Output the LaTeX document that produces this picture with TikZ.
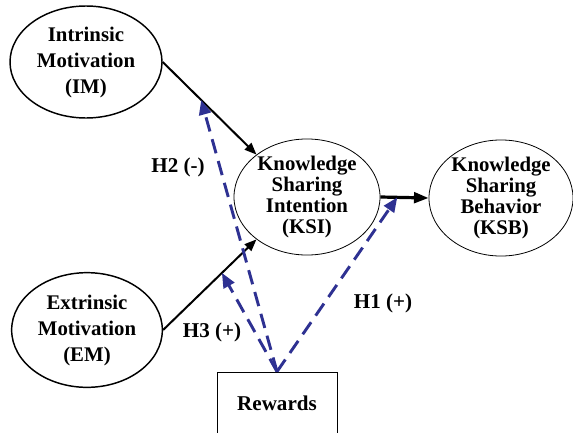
\documentclass[tikz,border=0pt]{standalone}
\usepackage{fontspec}
\setmainfont{Liberation Serif}
\usetikzlibrary{arrows.meta,shapes.geometric}
\definecolor{hblue}{RGB}{46,49,146}
\begin{document}
\begin{tikzpicture}[x=0.75pt,y=-0.75pt,
  construct/.style={ellipse,draw=black,align=center,inner sep=0pt,font=\bfseries\fontsize{15.6}{15.8}\selectfont},
  outer/.style={construct,line width=1.1pt,font=\bfseries\fontsize{15.6}{19.5}\selectfont},
  inner/.style={construct,line width=0.6pt},
  link/.style={line width=1.5pt,-{Triangle[length=9pt,width=7pt]}},
  hyp/.style={hblue,line width=2.2pt,dash pattern=on 11pt off 6pt,-{Triangle[length=11pt,width=9pt]}},
  lbl/.style={font=\bfseries\fontsize{15.8}{18}\selectfont,inner sep=0pt}]
\useasboundingbox (0,0) rectangle (573,432);
\clip (0,0) rectangle (573,432);
\node[outer,minimum width=114pt,minimum height=84pt] (IM) at (86,62) {Intrinsic\\Motivation\\(IM)};
\node[outer,minimum width=113pt,minimum height=86pt] (EM) at (87,330) {Extrinsic\\Motivation\\(EM)};
\node[inner,minimum width=109.5pt,minimum height=82.5pt] (KSI) at (307,197) {Knowledge\\Sharing\\Intention\\(KSI)};
\node[inner,minimum width=108pt,minimum height=82.5pt] (KSB) at (501,198) {Knowledge\\Sharing\\Behavior\\(KSB)};
\node[draw=black,line width=0.6pt,minimum width=90pt,minimum height=46.5pt,inner sep=0pt,font=\bfseries\fontsize{15.8}{18}\selectfont] (RW) at (277,403) {Rewards};
\draw[link] (IM.east) -- (KSI.140) coordinate[pos=0.41] (h2);
\draw[link] (EM.east) -- (KSI.220) coordinate[pos=0.63] (h3);
\draw[line width=2.4pt,-{Triangle[length=11pt,width=8pt]}] (KSI.east) -- (KSB.west) coordinate[pos=0.35] (h1);
\draw[hyp] (RW.north) -- (h2);
\draw[hyp] (RW.north) -- (h3);
\draw[hyp] (RW.north) -- (h1);
\node[lbl] (L2) at (178,167) {H2 (-)};
\node[lbl] (L3) at (212,332) {H3 (+)};
\node[lbl] (L1) at (383,303) {H1 (+)};
\end{tikzpicture}
\end{document}
